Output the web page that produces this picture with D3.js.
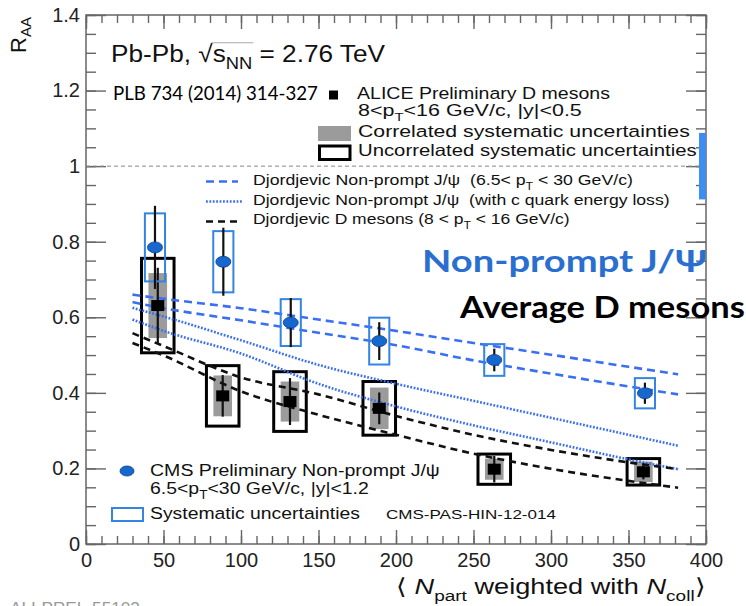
<!DOCTYPE html>
<html>
<head>
<meta charset="utf-8">
<script src="https://cdn.jsdelivr.net/npm/d3@7"></script>
<style>
  body { margin: 0; background: #fff; }
  svg { display: block; }
  text { white-space: pre; }
</style>
</head>
<body>
<svg id="chart" width="746" height="606"></svg>
<script>
// ---- CMS non-prompt J/psi (6.5 < pT < 30 GeV/c, |y| < 1.2)
const cmsNpart = [44.5, 88.6, 132.1, 189.2, 263.4, 360.6];
const cmsRaa   = [0.785, 0.747, 0.586, 0.537, 0.487, 0.399];
const cmsStat  = [0.110, 0.090, 0.065, 0.050, 0.030, 0.028];
const cmsSyst  = [0.090, 0.081, 0.062, 0.062, 0.042, 0.040];
// CMS global uncertainty at R_AA = 1
const cmsGlobal = 0.088;

// ---- ALICE average D mesons (8 < pT < 16 GeV/c, |y| < 0.5)
const aliceNpart      = [46.3, 88.2, 131.6, 189.2, 263.4, 359.6];
const aliceRaa        = [0.631, 0.392, 0.377, 0.359, 0.198, 0.191];
const aliceStat       = [0.100, 0.055, 0.062, 0.042, 0.035, 0.020];
const aliceSystUncorr = [0.125, 0.080, 0.079, 0.071, 0.040, 0.035];
const aliceSystCorr   = [0.086, 0.054, 0.053, 0.055, 0.028, 0.027];

// ---- Djordjevic model bands
const theoryNpart    = [30, 50, 100, 150, 200, 250, 300, 350, 382];
const jpsiHigh       = [0.660, 0.649, 0.624, 0.594, 0.564, 0.532, 0.501, 0.469, 0.449];
const jpsiLow        = [0.640, 0.624, 0.592, 0.559, 0.526, 0.486, 0.451, 0.417, 0.396];
const jpsiCLossHigh  = [0.625, 0.602, 0.539, 0.474, 0.424, 0.379, 0.334, 0.289, 0.260];
const jpsiCLossLow   = [0.594, 0.564, 0.504, 0.424, 0.364, 0.314, 0.269, 0.224, 0.198];
const dMesonHigh     = [0.558, 0.524, 0.441, 0.396, 0.339, 0.289, 0.249, 0.216, 0.198];
const dMesonLow      = [0.532, 0.499, 0.404, 0.342, 0.289, 0.239, 0.199, 0.167, 0.149];

// ---- axis ticks
const xTickValues = [0, 50, 100, 150, 200, 250, 300, 350, 400];
const xTickLabels = ["0", "50", "100", "150", "200", "250", "300", "350", "400"];
const yTickValues = [0, 0.2, 0.4, 0.6, 0.8, 1.0, 1.2, 1.4];
const yTickLabels = ["0", "0.2", "0.4", "0.6", "0.8", "1", "1.2", "1.4"];
const xMinorValues = d3.range(0, 41).map(i => i * 10);
const yMinorValues = d3.range(0, 29).map(i => i * 0.05);

const HELV = "'Liberation Sans', Arial, Helvetica, sans-serif";
const CALI = "Lato, 'Open Sans', sans-serif";
const blue = "#3b6ff2";
const boxBlue = "#3384e3";
const axisColor = "#666";

const svg = d3.select("#chart");
const x = d3.scaleLinear().domain([0, 400]).range([86, 706]);
const y = d3.scaleLinear().domain([0, 1.4]).range([544, 15]);

// text helper: segments with optional subscripts / italics, stretched to a given width
function addText(parent, segs, o) {
  const g = parent.append("g");
  const t = g.append("text")
    .attr("x", o.x).attr("y", o.y)
    .attr("font-family", o.family || HELV)
    .attr("font-size", o.size)
    .attr("font-weight", o.weight || "normal")
    .attr("fill", o.fill || "#111");
  let shift = 0;
  segs.forEach(s => {
    const seg = typeof s === "string" ? { t: s } : s;
    const ts = t.append("tspan").text(seg.t);
    const want = seg.sub ? o.size * 0.3 : 0;
    if (want !== shift) { ts.attr("dy", want - shift); shift = want; }
    if (seg.sub) ts.attr("font-size", o.size * 0.7);
    if (seg.italic) ts.attr("font-style", "italic");
  });
  if (o.width) {
    const w = t.node().getComputedTextLength();
    const sx = o.width / w;
    g.attr("transform", `translate(${o.x},0) scale(${sx},1) translate(${-o.x},0)`);
  }
  return { g, t };
}

// ---- frame
svg.append("rect")
  .attr("x", x(0)).attr("y", y(1.4))
  .attr("width", x(400) - x(0)).attr("height", y(0) - y(1.4))
  .attr("fill", "none").attr("stroke", axisColor).attr("stroke-width", 1.5);

function styleTicks(g, labels) {
  g.select(".domain").remove();
  g.selectAll(".tick line").attr("stroke", axisColor).attr("stroke-width", 1.4);
  g.selectAll(".tick text")
    .attr("font-family", HELV).attr("font-size", 20).attr("fill", "#222");
  if (!labels) g.selectAll(".tick text").remove();
}

// left axis
svg.append("g").attr("transform", `translate(${x(0)},0)`)
  .call(d3.axisLeft(y).tickValues(yMinorValues).tickFormat("").tickSize(-10))
  .call(g => styleTicks(g, false));
svg.append("g").attr("transform", `translate(${x(0)},0)`)
  .call(d3.axisLeft(y).tickValues(yTickValues).tickFormat((d, i) => yTickLabels[i]).tickSize(-20).tickPadding(6))
  .call(g => styleTicks(g, true));
// right axis
svg.append("g").attr("transform", `translate(${x(400)},0)`)
  .call(d3.axisRight(y).tickValues(yMinorValues).tickFormat("").tickSize(-10))
  .call(g => styleTicks(g, false));
svg.append("g").attr("transform", `translate(${x(400)},0)`)
  .call(d3.axisRight(y).tickValues(yTickValues).tickFormat("").tickSize(-20))
  .call(g => styleTicks(g, false));
// bottom axis
svg.append("g").attr("transform", `translate(0,${y(0)})`)
  .call(d3.axisBottom(x).tickValues(xMinorValues).tickFormat("").tickSize(-8))
  .call(g => styleTicks(g, false));
svg.append("g").attr("transform", `translate(0,${y(0)})`)
  .call(d3.axisBottom(x).tickValues(xTickValues).tickFormat((d, i) => xTickLabels[i]).tickSize(-14).tickPadding(9))
  .call(g => styleTicks(g, true));
// top axis
svg.append("g").attr("transform", `translate(0,${y(1.4)})`)
  .call(d3.axisTop(x).tickValues(xMinorValues).tickFormat("").tickSize(-8))
  .call(g => styleTicks(g, false));
svg.append("g").attr("transform", `translate(0,${y(1.4)})`)
  .call(d3.axisTop(x).tickValues(xTickValues).tickFormat("").tickSize(-14))
  .call(g => styleTicks(g, false));

// unity reference line
svg.append("line")
  .attr("x1", x(0)).attr("x2", x(400)).attr("y1", y(1)).attr("y2", y(1))
  .attr("stroke", "#888").attr("stroke-width", 1).attr("stroke-dasharray", "4,3");

// CMS global uncertainty box at unity
svg.append("rect")
  .attr("x", x(395.5)).attr("width", x(400) - x(395.5))
  .attr("y", y(1 + cmsGlobal)).attr("height", y(1 - cmsGlobal) - y(1 + cmsGlobal))
  .attr("fill", "#3d8ef0");

// ---- ALICE systematic boxes
const alice = aliceNpart.map((n, i) => ({ n, v: aliceRaa[i], s: aliceStat[i], u: aliceSystUncorr[i], c: aliceSystCorr[i] }));
svg.append("g").selectAll("rect").data(alice).join("rect")
  .attr("x", d => x(d.n - 6)).attr("width", d => x(d.n + 6) - x(d.n - 6))
  .attr("y", d => y(d.v + d.c)).attr("height", d => y(d.v - d.c) - y(d.v + d.c))
  .attr("fill", "#9b9b9b");
svg.append("g").selectAll("rect").data(alice).join("rect")
  .attr("x", d => x(d.n - 10.5)).attr("width", d => x(d.n + 10.5) - x(d.n - 10.5))
  .attr("y", d => y(d.v + d.u)).attr("height", d => y(d.v - d.u) - y(d.v + d.u))
  .attr("fill", "none").attr("stroke", "#000").attr("stroke-width", 3);

// ---- model curves
const line = d3.line().x(d => x(d[0])).y(d => y(d[1])).curve(d3.curveMonotoneX);
const curves = [
  { vals: jpsiHigh, stroke: blue, dash: "8,5" },
  { vals: jpsiLow, stroke: blue, dash: "8,5" },
  { vals: jpsiCLossHigh, stroke: blue, dash: "1.8,1.6" },
  { vals: jpsiCLossLow, stroke: blue, dash: "1.8,1.6" },
  { vals: dMesonHigh, stroke: "#111", dash: "7,5" },
  { vals: dMesonLow, stroke: "#111", dash: "7,5" }
];
svg.append("g").selectAll("path").data(curves).join("path")
  .attr("d", c => line(theoryNpart.map((n, i) => [n, c.vals[i]])))
  .attr("fill", "none").attr("stroke", c => c.stroke)
  .attr("stroke-width", 2.6).attr("stroke-dasharray", c => c.dash);

// ALICE stat bars and markers
svg.append("g").selectAll("line").data(alice).join("line")
  .attr("x1", d => x(d.n)).attr("x2", d => x(d.n))
  .attr("y1", d => y(d.v + d.s)).attr("y2", d => y(d.v - d.s))
  .attr("stroke", "#111").attr("stroke-width", 2.2);
svg.append("g").selectAll("rect").data(alice).join("rect")
  .attr("x", d => x(d.n) - 6.5).attr("y", d => y(d.v) - 5.5)
  .attr("width", 13).attr("height", 11).attr("fill", "#000");

// ---- CMS points
const cms = cmsNpart.map((n, i) => ({ n, v: cmsRaa[i], s: cmsStat[i], u: cmsSyst[i] }));
svg.append("g").selectAll("rect").data(cms).join("rect")
  .attr("x", d => x(d.n - 6.5)).attr("width", d => x(d.n + 6.5) - x(d.n - 6.5))
  .attr("y", d => y(d.v + d.u)).attr("height", d => y(d.v - d.u) - y(d.v + d.u))
  .attr("fill", "none").attr("stroke", boxBlue).attr("stroke-width", 2);
svg.append("g").selectAll("line").data(cms).join("line")
  .attr("x1", d => x(d.n)).attr("x2", d => x(d.n))
  .attr("y1", d => y(d.v + d.s)).attr("y2", d => y(d.v - d.s))
  .attr("stroke", "#111").attr("stroke-width", 2.2);
svg.append("g").selectAll("ellipse").data(cms).join("ellipse")
  .attr("cx", d => x(d.n)).attr("cy", d => y(d.v))
  .attr("rx", 7.5).attr("ry", 5.5)
  .attr("fill", "#1668cf").attr("stroke", "#0d3f85").attr("stroke-width", 0.8);

// ---- titles and annotations
const title = addText(svg, ["Pb-Pb, ", "√", "s", { t: "NN", sub: true }, " = 2.76 TeV"],
  { x: 111, y: 62, size: 24, width: 274 });
{
  const node = title.t.node();
  const x1 = node.getEndPositionOfChar(7).x - 1;
  const x2 = node.getEndPositionOfChar(10).x + 1;
  title.g.append("line").attr("x1", x1).attr("x2", x2)
    .attr("y1", 62 - 24 * 0.8).attr("y2", 62 - 24 * 0.8)
    .attr("stroke", "#aaa").attr("stroke-width", 1);
}
addText(svg, ["PLB 734 (2014) 314-327"], { x: 113, y: 100, size: 20, family: CALI, width: 205, fill: "#000" });

// ALICE legend
svg.append("rect").attr("x", 329).attr("y", 90.5).attr("width", 9).attr("height", 9).attr("fill", "#000");
addText(svg, ["ALICE Preliminary D mesons"], { x: 357, y: 99, size: 16.5, width: 253 });
addText(svg, ["8<p", { t: "T", sub: true }, "<16 GeV/c, |y|<0.5"], { x: 358, y: 116.5, size: 16.5, width: 224 });
svg.append("rect").attr("x", 318).attr("y", 126).attr("width", 33).attr("height", 15).attr("fill", "#9b9b9b");
addText(svg, ["Correlated systematic uncertainties"], { x: 358, y: 137.5, size: 16.5, width: 332 });
svg.append("rect").attr("x", 319.5).attr("y", 146).attr("width", 30.5).attr("height", 13.5)
  .attr("fill", "none").attr("stroke", "#000").attr("stroke-width", 3);
addText(svg, ["Uncorrelated systematic uncertainties"], { x: 358, y: 156.5, size: 16.5, width: 339 });

// model legend
const modelLegend = [
  { c: curves[0], yy: 181.5, x2: 238, segs: ["Djordjevic Non-prompt J/ψ  (6.5< p", { t: "T", sub: true }, " < 30 GeV/c)"], w: 380, ty: 185 },
  { c: curves[2], yy: 201.5, x2: 242, segs: ["Djordjevic Non-prompt J/ψ  (with c quark energy loss)"], w: 417, ty: 205 },
  { c: curves[4], yy: 221.5, x2: 238, segs: ["Djordjevic D mesons (8 < p", { t: "T", sub: true }, " < 16 GeV/c)"], w: 317, ty: 224 }
];
modelLegend.forEach(m => {
  svg.append("line").attr("x1", 206).attr("x2", m.x2).attr("y1", m.yy).attr("y2", m.yy)
    .attr("stroke", m.c.stroke).attr("stroke-width", 2.6).attr("stroke-dasharray", m.c.dash);
  addText(svg, m.segs, { x: 253, y: m.ty, size: 15.5, width: m.w });
});

// CMS legend
svg.append("ellipse").attr("cx", 127).attr("cy", 471).attr("rx", 7).attr("ry", 5)
  .attr("fill", "#1668cf").attr("stroke", "#0d3f85").attr("stroke-width", 0.8);
addText(svg, ["CMS Preliminary Non-prompt J/ψ"], { x: 150, y: 476, size: 17, width: 290 });
addText(svg, ["6.5<p", { t: "T", sub: true }, "<30 GeV/c, |y|<1.2"], { x: 150, y: 494, size: 17, width: 219 });
svg.append("rect").attr("x", 112).attr("y", 508).attr("width", 31).attr("height", 13)
  .attr("fill", "none").attr("stroke", boxBlue).attr("stroke-width", 2);
addText(svg, ["Systematic uncertainties"], { x: 150, y: 519, size: 17, width: 210 });
addText(svg, ["CMS-PAS-HIN-12-014"], { x: 386, y: 519, size: 13.5, width: 170 });

// large annotations
addText(svg, ["Non-prompt J/Ψ"], { x: 422, y: 272, size: 30, family: CALI, weight: 700, fill: "#2a6fd0", width: 285 });
addText(svg, ["Average D mesons"], { x: 460, y: 318.5, size: 31, family: CALI, weight: 700, fill: "#000", width: 285 });

// axis titles
addText(svg, ["⟨ ", { t: "N", italic: true }, { t: "part", sub: true }, " weighted with ", { t: "N", italic: true }, { t: "coll", sub: true }, "⟩"],
  { x: 396, y: 594, size: 22, width: 310 });
const yTitle = svg.append("text")
  .attr("transform", "translate(26,53) rotate(-90)")
  .attr("font-family", HELV).attr("font-size", 22).attr("fill", "#111");
yTitle.append("tspan").text("R");
yTitle.append("tspan").text("AA").attr("font-size", 15).attr("dy", 5);

// figure id along the bottom edge
addText(svg, ["ALI-PREL-55102"], { x: 10, y: 614, size: 16, fill: "#999", width: 130 });
</script>
</body>
</html>
